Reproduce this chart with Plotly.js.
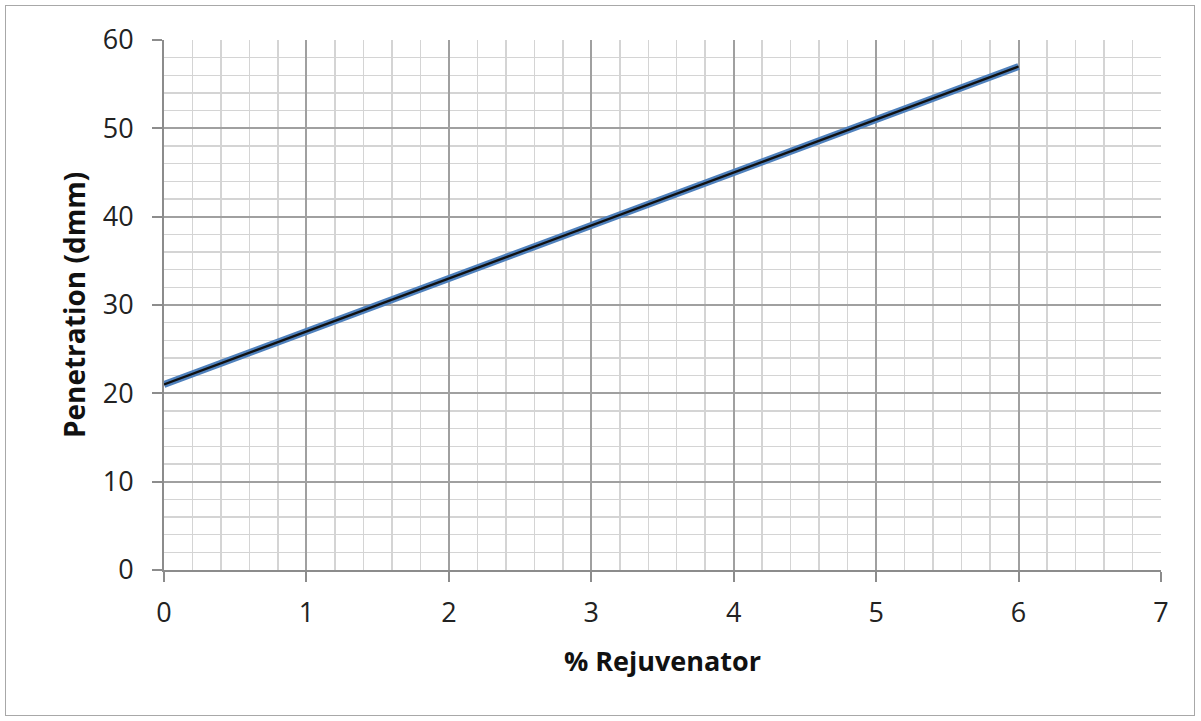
<!DOCTYPE html>
<html>
<head>
<meta charset="utf-8">
<script src="https://cdn.plot.ly/plotly-3.0.1.min.js"></script>
<style>
  html, body { margin: 0; padding: 0; background: #fff; }
  #wrap { position: relative; width: 1201px; height: 721px; }
  #chart { width: 1201px; height: 721px; }
  #frame { position: absolute; left: 5px; top: 5px; width: 1188px; height: 709px;
           border: 1.5px solid #a8a8a8; pointer-events: none; }
</style>
</head>
<body>
<div id="wrap">
  <div id="chart"></div>
  <div id="frame"></div>
</div>
<script>
const rejuvenatorPct = [0, 1, 2, 3, 4, 5, 6];
const penetrationDmm = [21, 27, 33, 39, 45, 51, 57];
const xTickVals = [0, 1, 2, 3, 4, 5, 6, 7];
const yTickVals = [0, 10, 20, 30, 40, 50, 60];
const xTitle = '% Rejuvenator';
const yTitle = 'Penetration (dmm)';

const font = 'Open Sans';

const traces = [
  { x: rejuvenatorPct, y: penetrationDmm, mode: 'lines', hoverinfo: 'skip',
    line: { color: '#4f81bd', width: 7 }, showlegend: false },
  { x: rejuvenatorPct, y: penetrationDmm, mode: 'lines',
    line: { color: '#111111', width: 2.2 }, showlegend: false }
];

const layout = {
  width: 1201, height: 721,
  margin: { l: 164, r: 40, t: 40, b: 151 },
  paper_bgcolor: '#ffffff', plot_bgcolor: '#ffffff',
  font: { family: font, color: '#222', size: 27 },
  showlegend: false,
  xaxis: {
    range: [0, 7], tickvals: xTickVals, ticktext: xTickVals.map(String),
    showgrid: true, gridcolor: '#a0a0a0', gridwidth: 2,
    minor: { dtick: 0.2, showgrid: true, gridcolor: '#d4d4d4', gridwidth: 1.5 },
    showline: true, linecolor: '#8c8c8c', linewidth: 2,
    ticks: 'outside', ticklen: 10, tickcolor: '#8c8c8c', tickwidth: 2,
    ticklabelstandoff: 8,
    zeroline: false, tickfont: { size: 27, family: font, color: '#222' },
    title: { text: '<b>' + xTitle + '</b>', font: { size: 27, family: font, color: '#111' }, standoff: 23 }
  },
  yaxis: {
    range: [0, 60], tickvals: yTickVals, ticktext: yTickVals.map(String),
    showgrid: true, gridcolor: '#a0a0a0', gridwidth: 2,
    minor: { dtick: 2, showgrid: true, gridcolor: '#d4d4d4', gridwidth: 1.5 },
    showline: true, linecolor: '#8c8c8c', linewidth: 2,
    ticks: 'outside', ticklen: 10, tickcolor: '#8c8c8c', tickwidth: 2,
    ticklabelstandoff: 13,
    zeroline: false, tickfont: { size: 27, family: font, color: '#222' },
    title: { text: '<b>' + yTitle + '</b>', font: { size: 28, family: font, color: '#111' }, standoff: 9 }
  }
};

Plotly.newPlot('chart', traces, layout, { displayModeBar: false, staticPlot: true });
</script>
</body>
</html>
